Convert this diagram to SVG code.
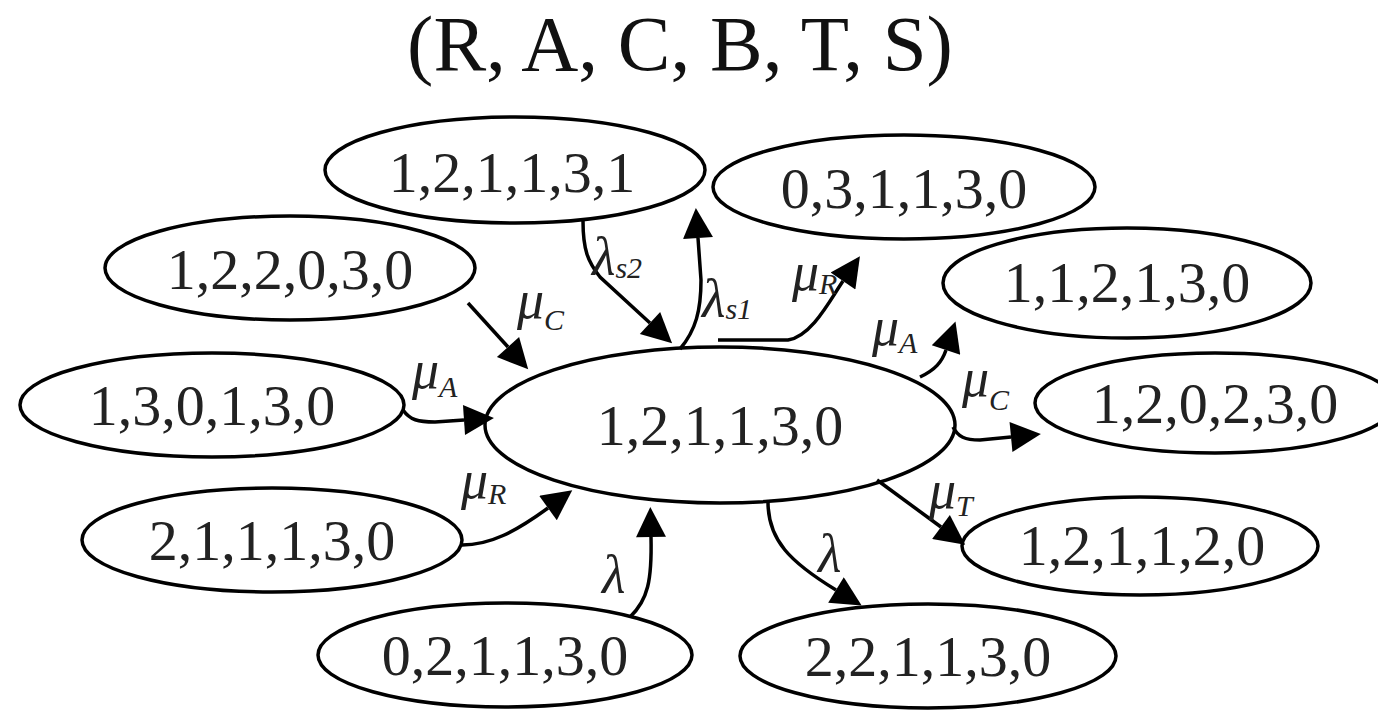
<svg xmlns="http://www.w3.org/2000/svg" width="1378" height="710" viewBox="0 0 1378 710">
<style>
.n ellipse{fill:#fff;stroke:#000;stroke-width:3.5}
.n text{font-family:"Liberation Serif","Times New Roman",serif;font-size:58px;text-anchor:middle;fill:#222}
.e path{fill:none;stroke:#000;stroke-width:3.5}
.lb{font-family:"Liberation Serif","Times New Roman",serif;font-style:italic;font-size:54px;fill:#222}
.sb{font-size:30px}
.title{font-family:"Liberation Serif","Times New Roman",serif;font-size:79px;text-anchor:middle;fill:#111}
</style>
<defs>
<marker id="ah" viewBox="0 0 10 10" refX="0" refY="5" markerUnits="userSpaceOnUse" markerWidth="34" markerHeight="30" orient="auto">
<path d="M0,0 L10,5 L0,10 z" fill="#000"/>
</marker>
</defs>
<rect width="1378" height="710" fill="#fff"/>
<text class="title" x="680" y="70">(R, A, C, B, T, S)</text>

<g id="nodes">
<g id="n_center" class="n"><ellipse cx="720" cy="425" rx="235" ry="78"/><text x="720" y="445">1,2,1,1,3,0</text></g>
<g id="n_121131" class="n"><ellipse cx="515" cy="170" rx="190" ry="53"/><text x="512" y="192">1,2,1,1,3,1</text></g>
<g id="n_031130" class="n"><ellipse cx="904" cy="187" rx="191" ry="52"/><text x="904" y="208">0,3,1,1,3,0</text></g>
<g id="n_122030" class="n"><ellipse cx="290" cy="268" rx="185" ry="52"/><text x="290" y="289">1,2,2,0,3,0</text></g>
<g id="n_112130" class="n"><ellipse cx="1127" cy="283" rx="184" ry="55"/><text x="1127" y="302">1,1,2,1,3,0</text></g>
<g id="n_130130" class="n"><ellipse cx="212" cy="405" rx="192" ry="52"/><text x="212" y="425">1,3,0,1,3,0</text></g>
<g id="n_120230" class="n"><ellipse cx="1215" cy="403" rx="180" ry="50"/><text x="1215" y="423">1,2,0,2,3,0</text></g>
<g id="n_211130" class="n"><ellipse cx="272" cy="540" rx="190" ry="52"/><text x="272" y="560">2,1,1,1,3,0</text></g>
<g id="n_121120" class="n"><ellipse cx="1140" cy="546" rx="178" ry="49"/><text x="1142" y="565">1,2,1,1,2,0</text></g>
<g id="n_021130" class="n"><ellipse cx="505" cy="655" rx="187" ry="52"/><text x="505" y="675">0,2,1,1,3,0</text></g>
<g id="n_221130" class="n"><ellipse cx="928" cy="656" rx="188" ry="52"/><text x="928" y="676">2,2,1,1,3,0</text></g>
</g>

<g id="connectors" class="e">
<path d="M583,221 C583,250 588,262 600,277 L650,323" marker-end="url(#ah)"/>
<path d="M680,349 C696,330 701,310 701,280 L698,238" marker-end="url(#ah)"/>
<path d="M718,340 L788,340 C812,336 830,300 843,281" marker-end="url(#ah)"/>
<path d="M920,377 C935,370 942,362 946,350" marker-end="url(#ah)"/>
<path d="M953,427 C958,437 965,440 980,440 L1011,437" marker-end="url(#ah)"/>
<path d="M877,480 L941,527" marker-end="url(#ah)"/>
<path d="M768,502 C768,540 790,562 836,590" marker-end="url(#ah)"/>
<path d="M630,617 C648,600 652,580 651,537" marker-end="url(#ah)"/>
<path d="M462,545 C490,545 515,532 548,508" marker-end="url(#ah)"/>
<path d="M403,410 C410,420 418,422 435,422 L464,420" marker-end="url(#ah)"/>
<path d="M468,303 L508,347" marker-end="url(#ah)"/>
</g>

<g id="labels">
<text class="lb" x="592" y="275">λ<tspan class="sb" dy="3">s2</tspan></text>
<text class="lb" x="702" y="317">λ<tspan class="sb" dy="2">s1</tspan></text>
<text class="lb" x="792" y="290">μ<tspan class="sb" dy="4">R</tspan></text>
<text class="lb" x="872" y="345">μ<tspan class="sb" dy="8">A</tspan></text>
<text class="lb" x="962" y="396">μ<tspan class="sb" dy="14">C</tspan></text>
<text class="lb" x="929" y="508">μ<tspan class="sb" dy="8">T</tspan></text>
<text class="lb" x="818" y="572">λ</text>
<text class="lb" x="602" y="593">λ</text>
<text class="lb" x="461" y="498">μ<tspan class="sb" dy="6">R</tspan></text>
<text class="lb" x="412" y="388">μ<tspan class="sb" dy="9">A</tspan></text>
<text class="lb" x="517" y="318">μ<tspan class="sb" dy="12">C</tspan></text>
</g>
</svg>
